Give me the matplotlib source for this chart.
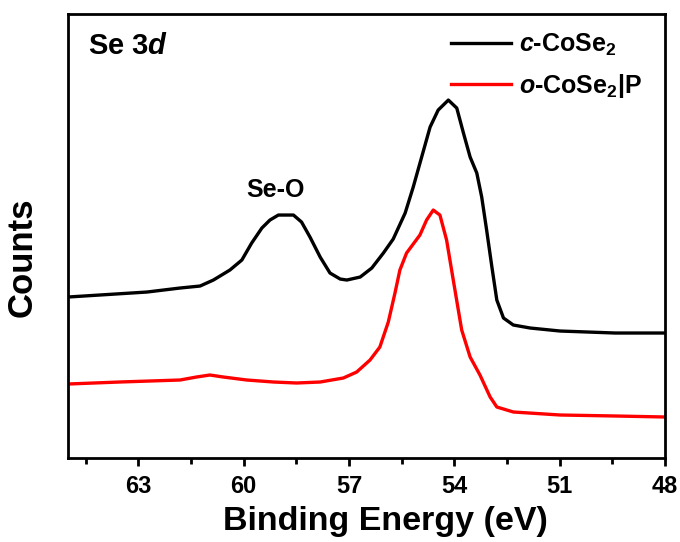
import matplotlib
matplotlib.use("Agg")
import matplotlib.pyplot as plt
from matplotlib.ticker import MultipleLocator

plt.rcParams['font.family'] = ['Liberation Sans', 'DejaVu Sans']
plt.rcParams['font.weight'] = 'bold'
plt.rcParams['mathtext.fontset'] = 'custom'
plt.rcParams['mathtext.rm'] = 'Liberation Sans:bold'
plt.rcParams['mathtext.bf'] = 'Liberation Sans:bold'
plt.rcParams['mathtext.it'] = 'Liberation Sans:bold:italic'

# Se 3d spectra (binding energy in eV, counts in arbitrary units)
be_c = [65.00, 62.75, 61.81, 61.24, 60.86, 60.39, 60.05, 59.77, 59.48, 59.25,
        59.01, 58.58, 58.35, 58.11, 57.82, 57.54, 57.25, 57.06, 56.68, 56.35,
        56.02, 55.74, 55.40, 55.17, 54.93, 54.69, 54.46, 54.17, 53.93, 53.74,
        53.55, 53.36, 53.22, 53.08, 52.93, 52.79, 52.60, 52.32, 51.84, 50.99,
        49.42, 48.00]
counts_c = [161, 166, 170, 172, 178, 188, 198, 215, 230, 238,
            243, 243, 236, 221, 201, 185, 179, 178, 181, 190,
            205, 219, 245, 271, 301, 331, 348, 358, 350, 325,
            301, 285, 261, 228, 191, 158, 140, 133, 130, 127,
            125, 125]

be_o = [65.00, 63.53, 61.81, 61.34, 60.96, 60.58, 59.91, 59.15, 58.49, 57.82,
        57.16, 56.78, 56.40, 56.12, 55.88, 55.69, 55.55, 55.36, 54.98, 54.79,
        54.60, 54.41, 54.22, 54.03, 53.79, 53.55, 53.27, 52.98, 52.79, 52.32,
        50.99, 49.42, 48.00]
counts_o = [74, 76, 78, 81, 83, 81, 78, 76, 75, 76,
            80, 86, 98, 111, 136, 165, 188, 205, 223, 238,
            248, 243, 218, 178, 128, 101, 83, 61, 51, 46,
            43, 42, 41]

labels = [r'$c$-CoSe$_2$', r'$o$-CoSe$_2$|P']

fig = plt.figure(figsize=(6.8, 5.42), dpi=100)
ax = fig.add_axes([0.1, 0.155, 0.878, 0.819])

ax.plot(be_c, counts_c, color='black', lw=2.4, label=labels[0],
        solid_joinstyle='round')
ax.plot(be_o, counts_o, color='red', lw=2.4, label=labels[1],
        solid_joinstyle='round')

ax.set_xlim(65, 48)
ax.set_ylim(0, 444)
ax.xaxis.set_major_locator(MultipleLocator(3))
ax.xaxis.set_minor_locator(MultipleLocator(1.5))
ax.tick_params(axis='x', which='major', direction='out', length=6, width=2,
               labelsize=17, pad=6)
ax.tick_params(axis='x', which='minor', direction='out', length=4, width=2)
ax.set_yticks([])
for lbl in ax.get_xticklabels():
    lbl.set_fontweight('bold')
for sp in ax.spines.values():
    sp.set_linewidth(2)

ax.set_xlabel('Binding Energy (eV)', fontsize=24.5, fontweight='bold')
ax.xaxis.set_label_coords(0.531, -0.108)
ax.set_ylabel('Counts', fontsize=25, fontweight='bold')
ax.yaxis.set_label_coords(-0.05, 0.452)

ax.text(0.0335, 0.928, r'Se 3$d$', transform=ax.transAxes, fontsize=21,
        fontweight='bold', va='center', ha='left')
ax.text(59.08, 268, 'Se-O', fontsize=18, fontweight='bold', ha='center', va='center')

leg = ax.legend(loc='upper right', bbox_to_anchor=(0.99, 1.0), frameon=False,
                fontsize=18, handlelength=2.4, handletextpad=0.3,
                labelspacing=0.55, borderaxespad=0.3)
for t in leg.get_texts():
    t.set_fontweight('bold')

fig.savefig('out.png', dpi=100)
